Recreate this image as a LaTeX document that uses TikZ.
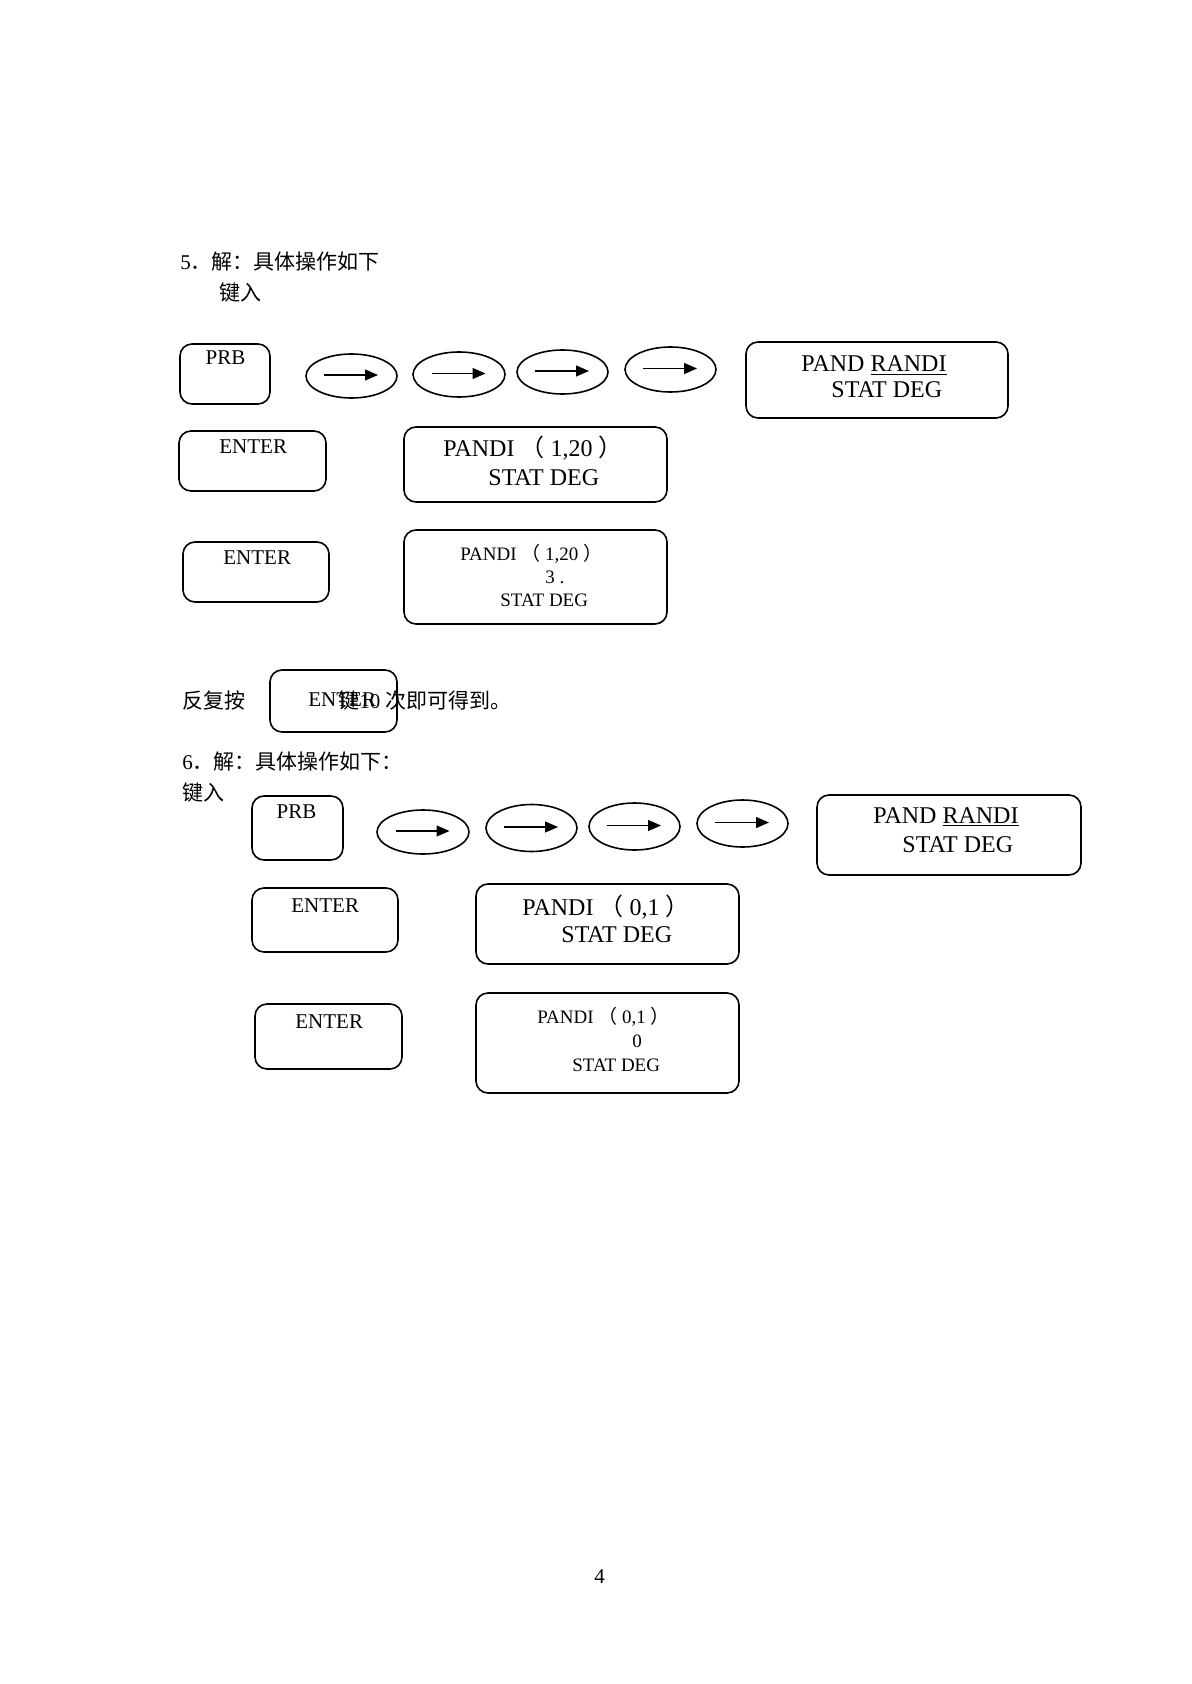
\documentclass[tikz,border=0pt]{standalone}
\usepackage{fontspec}
\setmainfont{Liberation Serif}
\newfontfamily\cjk{Noto Sans CJK SC}
\usetikzlibrary{shapes.geometric,arrows.meta}
\begin{document}
\begin{tikzpicture}[x=0.5pt,y=-0.5pt,
  kb/.style n args={2}{draw, line width=0.8pt, rounded corners=6pt, inner sep=0,
     minimum width={#1*0.5pt}, minimum height={#2*0.5pt}},
  ov/.style n args={2}{draw, ellipse, line width=0.8pt, inner sep=0,
     minimum width={#1*0.5pt}, minimum height={#2*0.5pt}},
  txt/.style={anchor=base west, inner sep=0, font=\fontsize{10.5pt}{12pt}\selectfont},
  ctxt/.style={anchor=base, inner sep=0, font=\fontsize{10.5pt}{12pt}\selectfont},
  big/.style={anchor=base west, inner sep=0, font=\fontsize{12pt}{14pt}\selectfont},
  small/.style={anchor=base west, inner sep=0, font=\fontsize{9.5pt}{11pt}\selectfont},
  arr/.style={-{Triangle[length=6.5pt,width=5.5pt]}, line width=0.6pt}]
\useasboundingbox[fill=white] (0,0) rectangle (1191,1684);

% ---------- problem 5 ----------
\node[txt] (h5) at (180,270) {5{\cjk ．解：具体操作如下}};
\node[txt] (k5) at (219,301) {\cjk 键入};

\node[kb={90}{60}] (prb1) at (225,374) {};
\node[ctxt] (prb1t) at (225.5,365) {PRB};

\node[ov={91}{44}] (o1) at (351.5,376) {};
\node[ov={92}{45}] (o2) at (459,374.5) {};
\node[ov={91}{44}] (o3) at (562.5,372) {};
\node[ov={91}{45}] (o4) at (670.5,369.5) {};
\foreach \o in {o1,o2,o3,o4}
  \draw[arr] ([xshift=-13.75pt,yshift=0.5pt]\o.center) -- ([xshift=13.25pt,yshift=0.5pt]\o.center);

\node[kb={262}{76}] (d1) at (877,380) {};
\node[big] (d1a) at (801,372) {PAND \underline{RANDI}};
\node[big] (d1b) at (831,398) {STAT DEG};

\node[kb={147}{60}] (e1) at (252.5,461) {};
\node[txt] (e1t) at (219,453) {ENTER};
\node[kb={263}{75}] (d2) at (535.5,464.5) {};
\node[big] (d2a) at (443,457) {PANDI {\cjk （} 1,20 {\cjk ）}};
\node[big] (d2b) at (488,485) {STAT DEG};

\node[kb={146}{60}] (e2) at (256,572) {};
\node[txt] (e2t) at (223,564) {ENTER};
\node[kb={263}{94}] (d3) at (535.5,577) {};
\node[small] (d3a) at (460,560) {PANDI {\cjk （} 1,20 {\cjk ）}};
\node[small] (d3b) at (545,583) {3 .};
\node[small] (d3c) at (500,606) {STAT DEG};

\node[txt] (rep) at (182,708) {\cjk 反复按};
\node[kb={127}{62}] (e3) at (333.5,701) {};
\node[txt] (e3t) at (308,706) {ENTER};
\node[txt] (rep2) at (338,708) {{\cjk 键}10 {\cjk 次即可得到。}};

% ---------- problem 6 ----------
\node[txt] (h6) at (182,769) {6{\cjk ．解：具体操作如下：}};
\node[txt] (k6) at (182,800) {\cjk 键入};

\node[kb={91}{64}] (prb2) at (297.5,828) {};
\node[ctxt] (prb2t) at (296.5,818) {PRB};

\node[ov={92}{44}] (o5) at (423,832) {};
\node[ov={91}{47}] (o6) at (531.5,828) {};
\node[ov={91}{47}] (o7) at (634.5,826.5) {};
\node[ov={91}{47}] (o8) at (742.5,823.5) {};
\foreach \o in {o5,o6,o7,o8}
  \draw[arr] ([xshift=-13.75pt,yshift=0.5pt]\o.center) -- ([xshift=13.25pt,yshift=0.5pt]\o.center);

\node[kb={264}{80}] (d4) at (949,835) {};
\node[big] (d4a) at (873,823) {PAND \underline{RANDI}};
\node[big] (d4b) at (902,852) {STAT DEG};

\node[kb={146}{64}] (e4) at (325,920) {};
\node[txt] (e4t) at (291,912) {ENTER};
\node[kb={263}{80}] (d5) at (607.5,924) {};
\node[big] (d5a) at (522,915) {PANDI {\cjk （} 0,1 {\cjk ）}};
\node[big] (d5b) at (561,942) {STAT DEG};

\node[kb={147}{65}] (e5) at (328.5,1036.5) {};
\node[txt] (e5t) at (295,1028) {ENTER};
\node[kb={263}{100}] (d6) at (607.5,1043) {};
\node[small] (d6a) at (537,1023) {PANDI {\cjk （} 0,1 {\cjk ）}};
\node[small] (d6b) at (632,1047) {0};
\node[small] (d6c) at (572,1071) {STAT DEG};

\node[txt] (pg) at (594,1583) {4};
\end{tikzpicture}
\end{document}
